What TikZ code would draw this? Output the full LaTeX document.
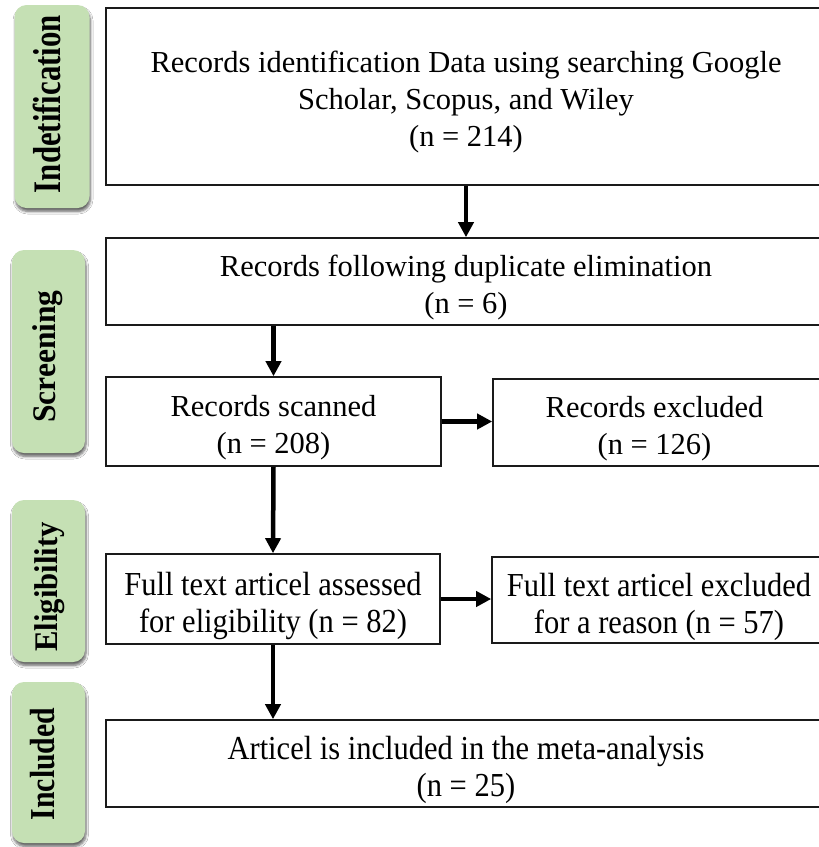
\documentclass[tikz,border=0pt]{standalone}
\usepackage{fontspec}
\setmainfont{Liberation Serif}
\usetikzlibrary{arrows.meta,shadows.blur}
\definecolor{pillgreen}{HTML}{C5E0B4}
\definecolor{boxline}{HTML}{1A1A1A}
\tikzset{
  flowbox/.style={draw=boxline, line width=1.6pt, fill=white, inner sep=0pt},
  uppertext/.style={align=center, inner sep=0pt, yshift=-6pt,
    font=\fontsize{30.5}{37}\selectfont},
  lowertext/.style={align=center, inner sep=0pt, yscale=1.1, yshift=-6pt,
    font=\fontsize{30.5}{33.6}\selectfont},
  pill/.style={fill=pillgreen, rounded corners=12pt, inner sep=0pt,
    blur shadow={shadow xshift=1pt, shadow yshift=-3.5pt, shadow blur steps=6, shadow blur radius=2.5pt, shadow opacity=60}},
  pilltext/.style 2 args={rotate=90, xscale=#2, anchor=base, inner sep=0pt,
    font=\bfseries\fontsize{#1}{#1}\selectfont},
  flowarrow/.style={line width=4.5pt, -{Triangle[length=15pt,width=15pt]}, black}
}
\begin{document}
\begin{tikzpicture}[x=1pt,y=-1pt]
\useasboundingbox (0,0) rectangle (819,847);
\clip (0,0) rectangle (819,847);
\fill[white] (0,0) rectangle (819,847);
% side labels
\node[pill, minimum width=75pt, minimum height=203pt] (p1) at (52,106.5) {};
\node[pilltext={39}{0.79}] (t1) at (60,104) {Indetification};
\node[pill, minimum width=73pt, minimum height=203pt] (p2) at (48.5,351.5) {};
\node[pilltext={33}{0.955}] (t2) at (56,356.5) {Screening};
\node[pill, minimum width=73pt, minimum height=162pt] (p3) at (48.5,581) {};
\node[pilltext={33}{0.93}] (t3) at (57,587) {Eligibility};
\node[pill, minimum width=73pt, minimum height=161pt] (p4) at (48.5,762.5) {};
\node[pilltext={35}{0.85}] (t4) at (54,764) {Included};
% boxes
\node[flowbox, minimum width=720pt, minimum height=177pt] (b1) at (466,96.5) {};
\node[uppertext] (b1t) at (b1.center)
  {Records identification Data using searching Google\\ Scholar, Scopus, and Wiley\\ (n = 214)};
\node[flowbox, minimum width=720pt, minimum height=87pt] (b2) at (466,281.5) {};
\node[uppertext] (b2t) at (b2.center) {Records following duplicate elimination\\ (n = 6)};
\node[flowbox, minimum width=335pt, minimum height=89pt] (b3) at (273.5,421.5) {};
\node[uppertext] (b3t) at (b3.center) {Records scanned\\ (n = 208)};
\node[flowbox, minimum width=333pt, minimum height=87pt] (b4) at (659.5,422.5) {};
\node[uppertext] (b4t) at (654.5,422.5) {Records excluded\\ (n = 126)};
\node[flowbox, minimum width=334pt, minimum height=90pt] (b5) at (273,599) {};
\node[lowertext] (b5t) at (b5.center) {Full text articel assessed\\ for eligibility (n = 82)};
\node[flowbox, minimum width=334pt, minimum height=86pt] (b6) at (659,600) {};
\node[lowertext] (b6t) at (b6.center) {Full text articel excluded\\ for a reason (n = 57)};
\node[flowbox, minimum width=720pt, minimum height=87pt] (b7) at (466,763.5) {};
\node[lowertext] (b7t) at (b7.center) {Articel is included in the meta-analysis\\ (n = 25)};
% arrows
\draw[flowarrow] (b1.south) -- (b2.north);
\draw[flowarrow] (b3.north |- b2.south) -- (b3.north);
\draw[flowarrow] (b3.east) -- (b4.west |- b3.east);
\draw[flowarrow] (b3.south) -- (b5.north);
\draw[flowarrow] (b5.east) -- (b6.west |- b5.east);
\draw[flowarrow] (b5.south) -- (b5.south |- b7.north);
\end{tikzpicture}
\end{document}
